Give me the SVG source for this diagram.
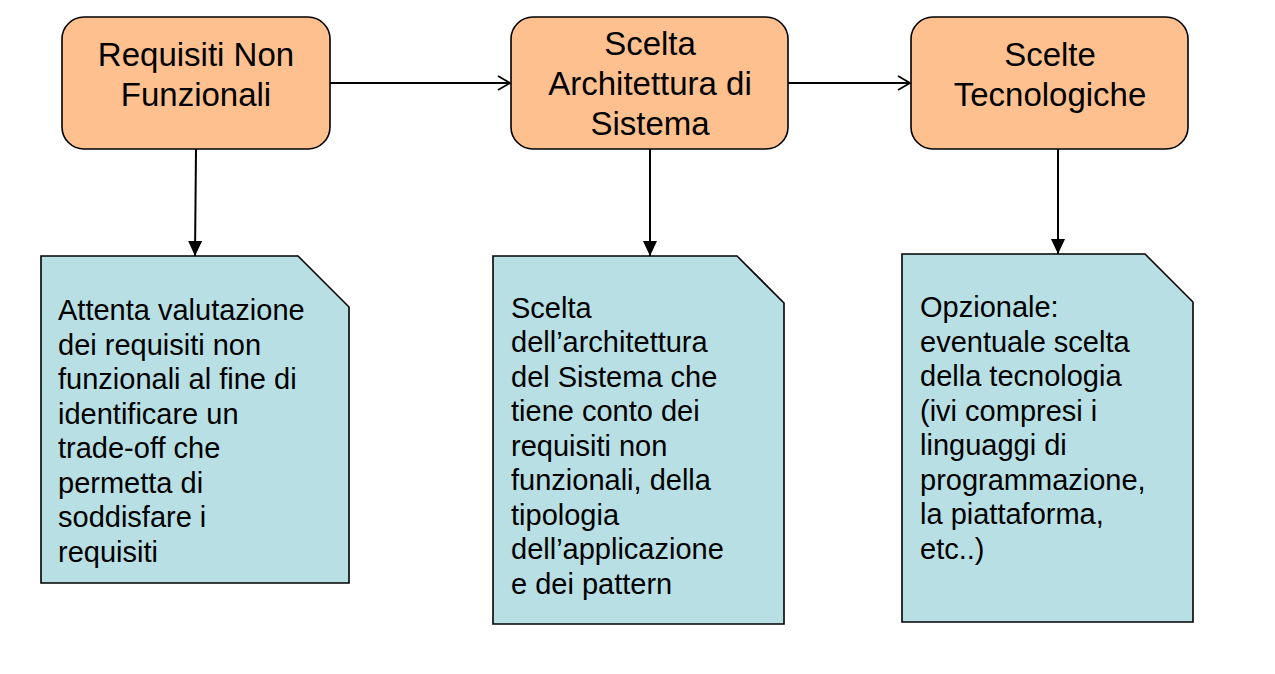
<svg xmlns="http://www.w3.org/2000/svg" width="1275" height="674" viewBox="0 0 1275 674">
<defs>
<style>
.box{fill:#FFC090;stroke:#000;stroke-width:1.6}
.note{fill:#B8DFE3;stroke:#000;stroke-width:1.6}
.title{font-family:"Liberation Sans",Arial,sans-serif;font-size:33px;fill:#000;text-anchor:middle}
.txt{font-family:"Liberation Sans",Arial,sans-serif;font-size:29px;fill:#000}
.conn{stroke:#000;stroke-width:2;fill:none}
</style>
<marker id="open" markerUnits="userSpaceOnUse" markerWidth="16" markerHeight="18" refX="13" refY="8" orient="auto">
<path d="M1,1 L13,8 L1,15" fill="none" stroke="#000" stroke-width="1.8"/>
</marker>
<marker id="filled" markerUnits="userSpaceOnUse" markerWidth="16" markerHeight="14" refX="15" refY="7" orient="auto">
<path d="M0,0 L15,7 L0,14 Z" fill="#000"/>
</marker>
</defs>
<rect width="1275" height="674" fill="#fff"/>
<g id="connectors">
<line class="conn" x1="330" y1="83" x2="510" y2="83" marker-end="url(#open)"/>
<line class="conn" x1="788" y1="83" x2="910" y2="83" marker-end="url(#open)"/>
<line class="conn" x1="196" y1="149" x2="195" y2="256" marker-end="url(#filled)"/>
<line class="conn" x1="650" y1="149" x2="650" y2="256" marker-end="url(#filled)"/>
<line class="conn" x1="1058" y1="149" x2="1058" y2="254" marker-end="url(#filled)"/>
</g>
<g id="node-requisiti">
<rect class="box" x="62" y="17" width="268" height="132" rx="22" ry="22"/>
<text class="title" x="196" y="66">Requisiti Non</text>
<text class="title" x="196" y="106">Funzionali</text>
</g>
<g id="node-architettura">
<rect class="box" x="511" y="17" width="277" height="132" rx="22" ry="22"/>
<text class="title" x="650" y="55">Scelta</text>
<text class="title" x="650" y="95">Architettura di</text>
<text class="title" x="650" y="135">Sistema</text>
</g>
<g id="node-tecnologiche">
<rect class="box" x="911" y="17" width="277" height="132" rx="22" ry="22"/>
<text class="title" x="1050" y="66">Scelte</text>
<text class="title" x="1050" y="106">Tecnologiche</text>
</g>
<g id="note-requisiti">
<path class="note" d="M41,256 L298,256 L349,307 L349,583 L41,583 Z"/>
<text class="txt" x="58" y="320">Attenta valutazione</text>
<text class="txt" x="58" y="354.5">dei requisiti non</text>
<text class="txt" x="58" y="389">funzionali al fine di</text>
<text class="txt" x="58" y="423.5">identificare un</text>
<text class="txt" x="58" y="458">trade-off che</text>
<text class="txt" x="58" y="492.5">permetta di</text>
<text class="txt" x="58" y="527">soddisfare i</text>
<text class="txt" x="58" y="561.5">requisiti</text>
</g>
<g id="note-architettura">
<path class="note" d="M493,256 L737,256 L784,303 L784,624 L493,624 Z"/>
<text class="txt" x="511" y="317.5">Scelta</text>
<text class="txt" x="511" y="352">dell’architettura</text>
<text class="txt" x="511" y="386.5">del Sistema che</text>
<text class="txt" x="511" y="421">tiene conto dei</text>
<text class="txt" x="511" y="455.5">requisiti non</text>
<text class="txt" x="511" y="490">funzionali, della</text>
<text class="txt" x="511" y="524.5">tipologia</text>
<text class="txt" x="511" y="559">dell’applicazione</text>
<text class="txt" x="511" y="593.5">e dei pattern</text>
</g>
<g id="note-tecnologiche">
<path class="note" d="M902,254 L1145,254 L1193,302 L1193,622 L902,622 Z"/>
<text class="txt" x="920" y="317">Opzionale:</text>
<text class="txt" x="920" y="351.5">eventuale scelta</text>
<text class="txt" x="920" y="386">della tecnologia</text>
<text class="txt" x="920" y="420.5">(ivi compresi i</text>
<text class="txt" x="920" y="455">linguaggi di</text>
<text class="txt" x="920" y="489.5">programmazione,</text>
<text class="txt" x="920" y="524">la piattaforma,</text>
<text class="txt" x="920" y="558.5">etc..)</text>
</g>
</svg>
